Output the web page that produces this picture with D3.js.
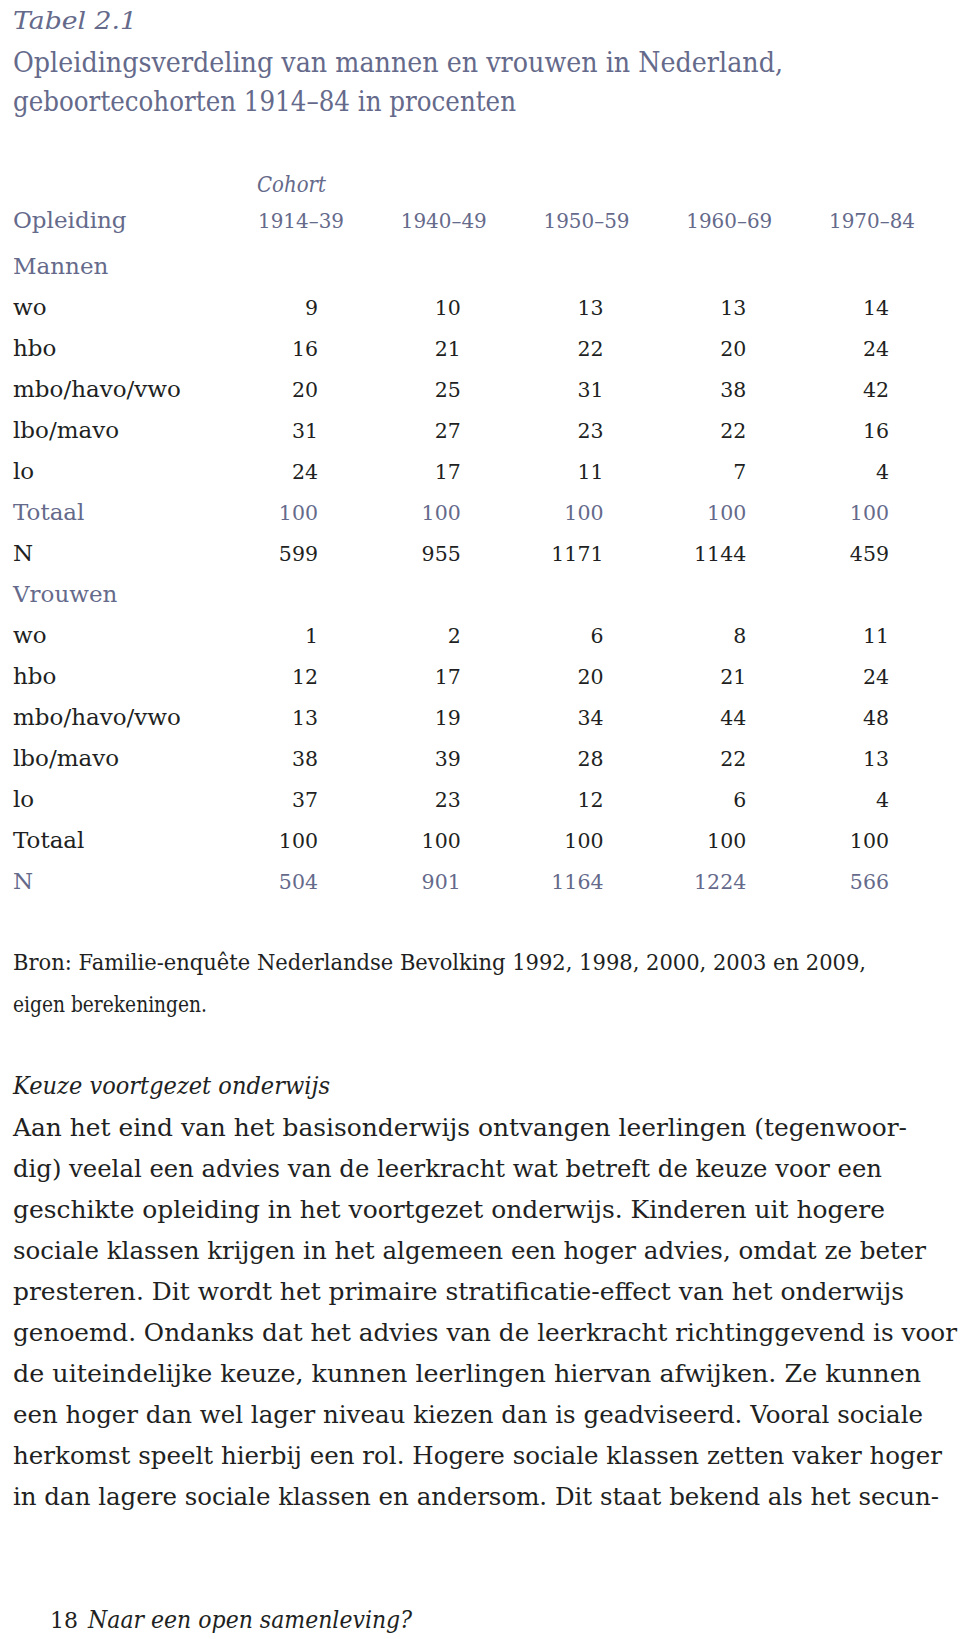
<!DOCTYPE html>
<html><head><meta charset="utf-8">
<script src="https://cdn.jsdelivr.net/npm/d3@7/dist/d3.min.js"></script>
<style>
html,body{margin:0;padding:0;background:#fff;}
svg{display:block;}
text{font-family:"DejaVu Serif",serif;}
</style></head>
<body>
<script>
// ---------- data ----------
const cohorts = ["1914–39", "1940–49", "1950–59", "1960–69", "1970–84"];
const levels = ["wo", "hbo", "mbo/havo/vwo", "lbo/mavo", "lo"];
const menValues = [
  [9, 10, 13, 13, 14],
  [16, 21, 22, 20, 24],
  [20, 25, 31, 38, 42],
  [31, 27, 23, 22, 16],
  [24, 17, 11, 7, 4]
];
const menTotal = [100, 100, 100, 100, 100];
const menN = [599, 955, 1171, 1144, 459];
const womenValues = [
  [1, 2, 6, 8, 11],
  [12, 17, 20, 21, 24],
  [13, 19, 34, 44, 48],
  [38, 39, 28, 22, 13],
  [37, 23, 12, 6, 4]
];
const womenTotal = [100, 100, 100, 100, 100];
const womenN = [504, 901, 1164, 1224, 566];

const tableLabel = "Tabel 2.1";
const titleLines = ["Opleidingsverdeling van mannen en vrouwen in Nederland,", "geboortecohorten 1914–84 in procenten"];
const sourceLines = ["Bron: Familie-enquête Nederlandse Bevolking 1992, 1998, 2000, 2003 en 2009,", "eigen berekeningen."];
const sectionHeading = "Keuze voortgezet onderwijs";
const paragraphLines = [
  "Aan het eind van het basisonderwijs ontvangen leerlingen (tegenwoor-",
  "dig) veelal een advies van de leerkracht wat betreft de keuze voor een",
  "geschikte opleiding in het voortgezet onderwijs. Kinderen uit hogere",
  "sociale klassen krijgen in het algemeen een hoger advies, omdat ze beter",
  "presteren. Dit wordt het primaire stratificatie-effect van het onderwijs",
  "genoemd. Ondanks dat het advies van de leerkracht richtinggevend is voor",
  "de uiteindelijke keuze, kunnen leerlingen hiervan afwijken. Ze kunnen",
  "een hoger dan wel lager niveau kiezen dan is geadviseerd. Vooral sociale",
  "herkomst speelt hierbij een rol. Hogere sociale klassen zetten vaker hoger",
  "in dan lagere sociale klassen en andersom. Dit staat bekend als het secun-"
];
const pageNumber = "18";
const footerTitle = "Naar een open samenleving?";

// ---------- layout ----------
const W = 960, H = 1639;
const BLUE = "#656a8b", INK = "#211f22";
const paraWidths = [894, 869, 872, 913, 891, 944, 908, 910, 929, 926];

const svg = d3.select("body").append("svg").attr("width", W).attr("height", H);
svg.append("rect").attr("width", W).attr("height", H).attr("fill", "#fff");

// title block
svg.append("text").attr("x", 13).attr("y", 29).attr("font-style", "italic")
  .attr("font-size", 24).attr("fill", BLUE)
  .attr("textLength", 124).attr("lengthAdjust", "spacingAndGlyphs").text(tableLabel);
const titleW = [770, 503];
svg.selectAll("text.title").data(titleLines).join("text").attr("class", "title")
  .attr("x", 13).attr("y", (d, i) => 72 + i * 39)
  .attr("font-size", 28.5).attr("fill", BLUE)
  .attr("textLength", (d, i) => titleW[i]).attr("lengthAdjust", "spacingAndGlyphs")
  .text(d => d);

// table
const x = d3.scalePoint().domain(cohorts).range([318, 889]);
const y = d3.scaleLinear().domain([0, 15]).range([274, 274 + 15 * 41]);

svg.append("text").attr("x", x(cohorts[0]) - 61).attr("y", 192).attr("font-style", "italic")
  .attr("font-size", 22).attr("fill", BLUE).attr("textLength", 69).attr("lengthAdjust", "spacingAndGlyphs").text("Cohort");
svg.append("text").attr("x", 13).attr("y", 228).attr("font-size", 23).attr("fill", BLUE).text("Opleiding");
svg.selectAll("text.colhead").data(cohorts).join("text").attr("class", "colhead")
  .attr("x", d => x(d) - 60).attr("y", 228).attr("font-size", 21).attr("fill", BLUE)
  .attr("textLength", 86).attr("lengthAdjust", "spacingAndGlyphs").text(d => d);

const rows = [];
function addGroup(name, vals, total, n, totalBlue, nBlue) {
  rows.push({ label: name, values: null, color: BLUE });
  levels.forEach((l, i) => rows.push({ label: l, values: vals[i], color: INK }));
  rows.push({ label: "Totaal", values: total, color: totalBlue ? BLUE : INK });
  rows.push({ label: "N", values: n, color: nBlue ? BLUE : INK });
}
addGroup("Mannen", menValues, menTotal, menN, true, false);
addGroup("Vrouwen", womenValues, womenTotal, womenN, false, true);

const rowG = svg.selectAll("g.row").data(rows).join("g").attr("class", "row")
  .attr("transform", (d, i) => `translate(0,${y(i)})`);
rowG.append("text").attr("x", 13).attr("font-size", 23).attr("fill", d => d.color).text(d => d.label);
rowG.selectAll("text.val").data(d => d.values ? d.values.map((v, j) => ({ v, c: cohorts[j], color: d.color })) : [])
  .join("text").attr("class", "val")
  .attr("x", d => x(d.c)).attr("text-anchor", "end").attr("font-size", 20.5).attr("fill", d => d.color)
  .text(d => d.v);

// source
const srcW = [853, 194];
svg.selectAll("text.src").data(sourceLines).join("text").attr("class", "src")
  .attr("x", 13).attr("y", (d, i) => 970 + i * 42).attr("font-size", 21.5).attr("fill", INK)
  .attr("textLength", (d, i) => srcW[i]).attr("lengthAdjust", "spacingAndGlyphs").text(d => d);

// section heading
svg.append("text").attr("x", 13).attr("y", 1094).attr("font-style", "italic").attr("font-size", 24)
  .attr("fill", INK).attr("textLength", 317).attr("lengthAdjust", "spacingAndGlyphs").text(sectionHeading);

// paragraph
svg.selectAll("text.para").data(paragraphLines).join("text").attr("class", "para")
  .attr("x", 13).attr("y", (d, i) => 1136 + i * 41).attr("font-size", 24.5).attr("fill", INK)
  .attr("textLength", (d, i) => paraWidths[i]).attr("lengthAdjust", "spacingAndGlyphs").text(d => d);

// footer
svg.append("text").attr("x", 50).attr("y", 1628).attr("font-size", 22).attr("fill", INK).text(pageNumber);
svg.append("text").attr("x", 88).attr("y", 1628).attr("font-style", "italic").attr("font-size", 24)
  .attr("fill", INK).attr("textLength", 324).attr("lengthAdjust", "spacingAndGlyphs").text(footerTitle);
</script>
</body></html>
